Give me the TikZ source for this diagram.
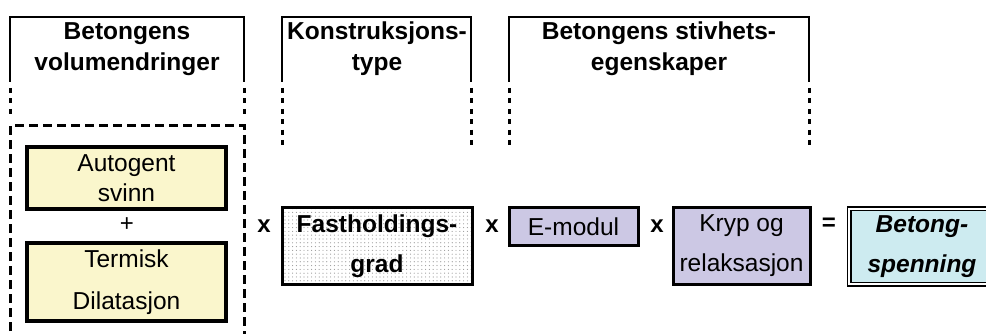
\documentclass[tikz,border=0pt]{standalone}
\usepackage{fontspec}
\setmainfont{Liberation Sans}
\usepackage{tikz}
\usepackage{xcolor}
\usetikzlibrary{patterns}
\definecolor{volfill}{HTML}{FAF6CC}
\definecolor{stivfill}{HTML}{CCC8E4}
\definecolor{spenfill}{HTML}{CDEBF0}
\pgfdeclarepatternformonly{sparsedots}{\pgfqpoint{-1pt}{-1pt}}{\pgfqpoint{1pt}{1pt}}{\pgfqpoint{3.8pt}{3.8pt}}{\pgfpathcircle{\pgfqpoint{0pt}{0pt}}{.6pt}\pgfusepath{fill}}

\begin{document}
\begin{tikzpicture}[
      x=1pt, y=-1pt,
      every node/.style={inner sep=0pt, align=center, font=\fontsize{24.5}{30}\selectfont},
      head/.style={font=\fontsize{24.5}{31}\selectfont\bfseries},
      op/.style={font=\fontsize{24}{26}\selectfont\bfseries},
      volbox/.style={draw, line width=3.5pt, fill=volfill, minimum width=199pt},
      stivbox/.style={draw, line width=3pt, fill=stivfill},
      bracket/.style={line width=1.5pt},
      dotline/.style={line width=3pt, dash pattern=on 5pt off 5.4pt}
    ]
      \useasboundingbox (0,0) rectangle (986,334);
      \draw[bracket] (10,82) -- (10,17) -- (244,17) -- (244,82);
      \draw[bracket] (282,82) -- (282,17) -- (471,17) -- (471,82);
      \draw[bracket] (509,82) -- (509,17) -- (809,17) -- (809,82);
      \draw[dotline] (10,88) -- (10,114) (244,88) -- (244,114);
      \draw[dotline] (282,88) -- (282,146) (471,88) -- (471,146);
      \draw[dotline] (509,88) -- (509,146) (809,88) -- (809,146);
      \draw[line width=3pt, dash pattern=on 9pt off 5pt] (10,345) -- (10,126) -- (244,126) -- (244,345);
      \node[head] (vol) at (127,49) {Betongens\\volumendringer};
      \node[head] (konst) at (377,49) {Konstruksjons-\\type};
      \node[head] (stiv) at (659,49) {Betongens stivhets-\\egenskaper};
      \node[volbox, minimum height=62pt] (auto) at (126.5,178) {Autogent\\svinn};
      \node[font=\fontsize{24}{26}\selectfont] (plus) at (127,225) {+};
      \node[volbox, minimum height=78pt] (term) at (126.5,282) {Termisk\\[12pt]Dilatasjon};
      \node[op] (x1) at (264,226) {x};
      \node[draw, line width=3pt, pattern=sparsedots, pattern color=gray!80, minimum width=190pt, minimum height=76pt, font=\fontsize{24.5}{40}\selectfont\bfseries] (fast) at (377,246) {Fastholdings-\\grad};
      \node[op] (x2) at (492,226) {x};
      \node[stivbox, minimum width=129pt, minimum height=37pt] (emod) at (573.5,226.5) {E-modul};
      \node[op] (x3) at (657,226) {x};
      \node[stivbox, minimum width=137pt, minimum height=76pt, font=\fontsize{24.5}{40}\selectfont] (kryp) at (741.5,246) {Kryp og\\relaksasjon};
      \node[op] (eq) at (829,224) {=};
      \node[draw, double, double distance=2pt, line width=1.5pt, fill=spenfill, minimum width=146pt, minimum height=75pt, font=\fontsize{24.5}{40}\selectfont\bfseries\itshape] (spen) at (922,246.5) {Betong-\\spenning};
    \end{tikzpicture}
\end{document}
